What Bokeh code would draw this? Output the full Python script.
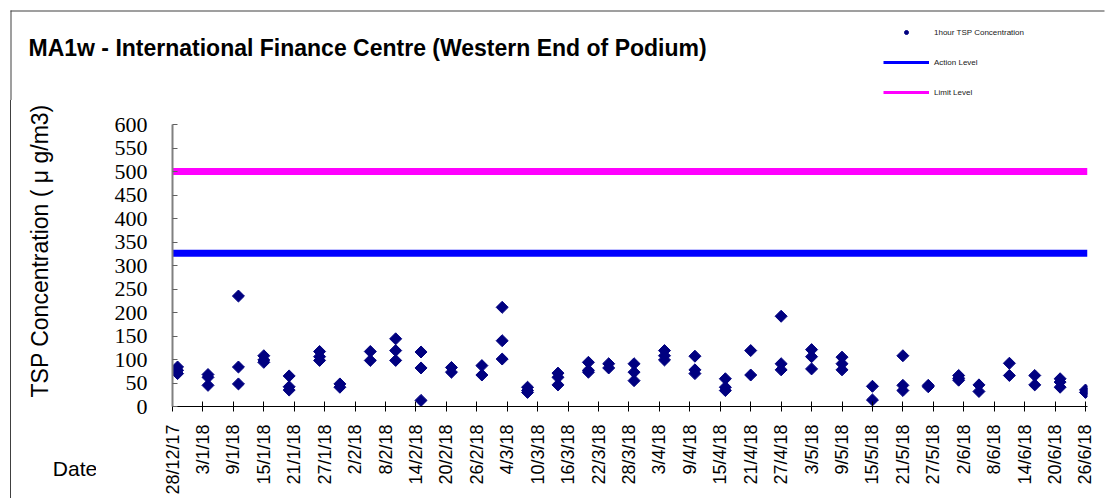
import numpy as np
from datetime import datetime
from bokeh.plotting import figure
from bokeh.layouts import column, row, Spacer
from bokeh.models import (Range1d, FixedTicker, Label, Legend, LegendItem,
                          BoxAnnotation, ColumnDataSource, Title)
from bokeh.embed import file_html
from bokeh.resources import INLINE

# ---------------- data ----------------
START = "28/12/17"
END = "26/6/18"

tick_labels = ["28/12/17", "3/1/18", "9/1/18", "15/1/18", "21/1/18", "27/1/18",
               "2/2/18", "8/2/18", "14/2/18", "20/2/18", "26/2/18", "4/3/18",
               "10/3/18", "16/3/18", "22/3/18", "28/3/18", "3/4/18", "9/4/18",
               "15/4/18", "21/4/18", "27/4/18", "3/5/18", "9/5/18", "15/5/18",
               "21/5/18", "27/5/18", "2/6/18", "8/6/18", "14/6/18", "20/6/18",
               "26/6/18"]

y_ticks = [0, 50, 100, 150, 200, 250, 300, 350, 400, 450, 500, 550, 600]

# 1-hour TSP measurements (one entry per point)
sample_dates = ["29/12/17", "29/12/17", "29/12/17",
                "4/1/18", "4/1/18", "4/1/18",
                "10/1/18", "10/1/18", "10/1/18",
                "15/1/18", "15/1/18", "15/1/18",
                "20/1/18", "20/1/18", "20/1/18",
                "26/1/18", "26/1/18", "26/1/18",
                "30/1/18", "30/1/18",
                "5/2/18", "5/2/18",
                "10/2/18", "10/2/18", "10/2/18",
                "15/2/18", "15/2/18", "15/2/18",
                "21/2/18", "21/2/18",
                "27/2/18", "27/2/18",
                "3/3/18", "3/3/18", "3/3/18",
                "8/3/18", "8/3/18", "8/3/18",
                "14/3/18", "14/3/18", "14/3/18",
                "20/3/18", "20/3/18", "20/3/18",
                "24/3/18", "24/3/18",
                "29/3/18", "29/3/18", "29/3/18",
                "4/4/18", "4/4/18", "4/4/18",
                "10/4/18", "10/4/18", "10/4/18",
                "16/4/18", "16/4/18", "16/4/18",
                "21/4/18", "21/4/18",
                "27/4/18", "27/4/18", "27/4/18",
                "3/5/18", "3/5/18", "3/5/18",
                "9/5/18", "9/5/18", "9/5/18",
                "15/5/18", "15/5/18",
                "21/5/18", "21/5/18", "21/5/18",
                "26/5/18", "26/5/18",
                "1/6/18", "1/6/18", "1/6/18",
                "5/6/18", "5/6/18",
                "11/6/18", "11/6/18",
                "16/6/18", "16/6/18",
                "21/6/18", "21/6/18", "21/6/18",
                "26/6/18", "26/6/18"]

tsp_values = [84, 77, 70,
              68, 62, 45,
              235, 84, 48,
              108, 99, 94,
              65, 42, 35,
              117, 106, 98,
              48, 41,
              117, 98,
              144, 119, 98,
              116, 82, 13,
              83, 73,
              87, 67,
              211, 140, 101,
              41, 34, 30,
              71, 62, 46,
              94, 77, 73,
              91, 82,
              91, 73, 55,
              119, 108, 99,
              107, 78, 70,
              59, 41, 34,
              119, 67,
              192, 91, 78,
              121, 106, 80,
              105, 91, 78,
              43, 14,
              108, 45, 34,
              45, 42,
              66, 60, 56,
              46, 32,
              92, 66,
              66, 46,
              59, 52, 41,
              35, 30]

action_level = 326
limit_level = 500

legend_labels = ["1hour TSP Concentration", "Action Level", "Limit Level"]
title_text = "MA1w - International Finance Centre (Western End of Podium)"
y_label_text = "TSP Concentration ( \u03bc g/m3)"
x_label_text = "Date"

# ---------------- helpers ----------------
def to_day(s):
    return (datetime.strptime(s, "%d/%m/%y") - datetime.strptime(START, "%d/%m/%y")).days

x_days = [to_day(d) for d in sample_dates]
tick_pos = [to_day(t) for t in tick_labels]
x_end = to_day(END) + 0.4

FONT = "Liberation Sans"
NAVY = "#000080"
BLUE = "#0000FF"
MAGENTA = "#FF00FF"
FRAME = "#404040"

W, H = 1105, 498
TOP_H = 100
LH = H - TOP_H
BORDER_X = 10
LEFT_END = 96          # page x where main figure starts
FRAME_L, FRAME_R = 172, 1087
FRAME_T, FRAME_B = 124, 406


def plain(f):
    f.outline_line_color = None
    f.xgrid.grid_line_color = None
    f.ygrid.grid_line_color = None
    return f


# ---------------- top strip: title + legend ----------------
top = plain(figure(width=W, height=TOP_H, output_backend="svg", toolbar_location=None,
                   x_range=Range1d(0, W), y_range=Range1d(TOP_H, 0),
                   x_axis_type=None, y_axis_type=None, min_border=0,
                   background_fill_color="white", border_fill_color="white"))
top.add_layout(BoxAnnotation(left=BORDER_X, right=1104, top=10, bottom=11,
                             fill_color=FRAME, fill_alpha=1, line_color=None))
top.add_layout(BoxAnnotation(left=BORDER_X, right=BORDER_X + 1, top=10, bottom=TOP_H,
                             fill_color=FRAME, fill_alpha=1, line_color=None))
top.add_layout(Label(x=28, y=47, text=title_text, text_font=FONT,
                     text_font_style="bold", text_font_size="23px",
                     text_baseline="middle", text_align="left", text_color="black"))

r_dot = top.scatter(x=[-50], y=[-50], marker="circle", size=3.5,
                    fill_color=NAVY, line_color=NAVY)
r_act = top.line(x=[-60, -50], y=[-50, -50], line_color=BLUE, line_width=3)
r_lim = top.line(x=[-60, -50], y=[-50, -50], line_color=MAGENTA, line_width=3)
legend = Legend(items=[LegendItem(label=legend_labels[0], renderers=[r_dot]),
                       LegendItem(label=legend_labels[1], renderers=[r_act]),
                       LegendItem(label=legend_labels[2], renderers=[r_lim])],
                location=(883, 3), orientation="vertical",
                glyph_width=46, glyph_height=10, label_height=10,
                label_standoff=5, spacing=20, padding=0, margin=0,
                label_text_font=FONT, label_text_font_size="8px",
                label_text_color="#202020",
                border_line_color=None, background_fill_alpha=0)
top.add_layout(legend, "center")

# ---------------- left strip: y label + "Date" (its left edge continues the border) ----
left = plain(figure(width=LEFT_END - BORDER_X, height=LH, output_backend="svg",
                    toolbar_location=None, x_range=Range1d(0, 1), y_range=Range1d(0, 1),
                    y_axis_type=None,
                    min_border_left=51 - BORDER_X, min_border_right=0,
                    min_border_top=FRAME_T - TOP_H, min_border_bottom=H - FRAME_B,
                    background_fill_color="white", border_fill_color="white",
                    styles={"border-left": f"1px solid {FRAME}",
                            "box-sizing": "border-box"}))
lx = left.xaxis[0]
lx.ticker = FixedTicker(ticks=[])
lx.axis_line_color = None
lx.major_tick_line_color = None
lx.minor_tick_line_color = None
lx.major_tick_out = 0
lx.major_tick_in = 0
lx.major_label_standoff = 0
lx.axis_label = x_label_text
lx.axis_label_text_font = FONT
lx.axis_label_text_font_style = "normal"
lx.axis_label_text_font_size = "21px"
lx.axis_label_text_color = "black"
lx.axis_label_standoff = 50
left.add_layout(Title(text=y_label_text, align="left", offset=FRAME_B - 397,
                      standoff=0, text_font=FONT, text_font_style="normal",
                      text_font_size="23px", text_color="black"), "left")

# ---------------- main chart ----------------
p = plain(figure(width=W - LEFT_END, height=LH, output_backend="svg", toolbar_location=None,
                 x_range=Range1d(0, x_end), y_range=Range1d(0, 600),
                 min_border_left=FRAME_L - LEFT_END, min_border_right=W - FRAME_R,
                 min_border_top=FRAME_T - TOP_H, min_border_bottom=H - FRAME_B,
                 background_fill_color="white", border_fill_color="white"))

xa = p.xaxis[0]
xa.ticker = FixedTicker(ticks=tick_pos)
xa.major_label_overrides = {int(t): l for t, l in zip(tick_pos, tick_labels)}
xa.major_label_orientation = np.pi / 2
xa.major_label_text_font = FONT
xa.major_label_text_font_size = "18px"
xa.major_label_text_color = "black"
xa.major_label_standoff = 13
xa.axis_line_color = "black"
xa.major_tick_line_color = "black"
xa.major_tick_in = 5
xa.major_tick_out = 5
xa.minor_tick_line_color = None

ya = p.yaxis[0]
ya.ticker = FixedTicker(ticks=y_ticks)
ya.major_label_text_font = "Liberation Serif"
ya.major_label_text_font_size = "22px"
ya.major_label_text_color = "black"
ya.major_label_standoff = 25
ya.axis_line_color = "#808080"
ya.axis_line_width = 2
ya.major_tick_line_color = "#606060"
ya.major_tick_in = 5
ya.major_tick_out = 0
ya.minor_tick_line_color = None

p.line(x=[0, x_end], y=[limit_level, limit_level], line_color=MAGENTA, line_width=7)
p.line(x=[0, x_end], y=[action_level, action_level], line_color=BLUE, line_width=7)

src = ColumnDataSource(dict(x=x_days, y=tsp_values))
p.scatter("x", "y", source=src, marker="square", angle=np.pi / 4, size=8.5,
          fill_color=NAVY, line_color=NAVY, line_width=1)

layout = column(top,
                row(Spacer(width=BORDER_X, height=LH), left, p, spacing=0),
                spacing=0)
open("out.html", "w").write(file_html(layout, INLINE))
